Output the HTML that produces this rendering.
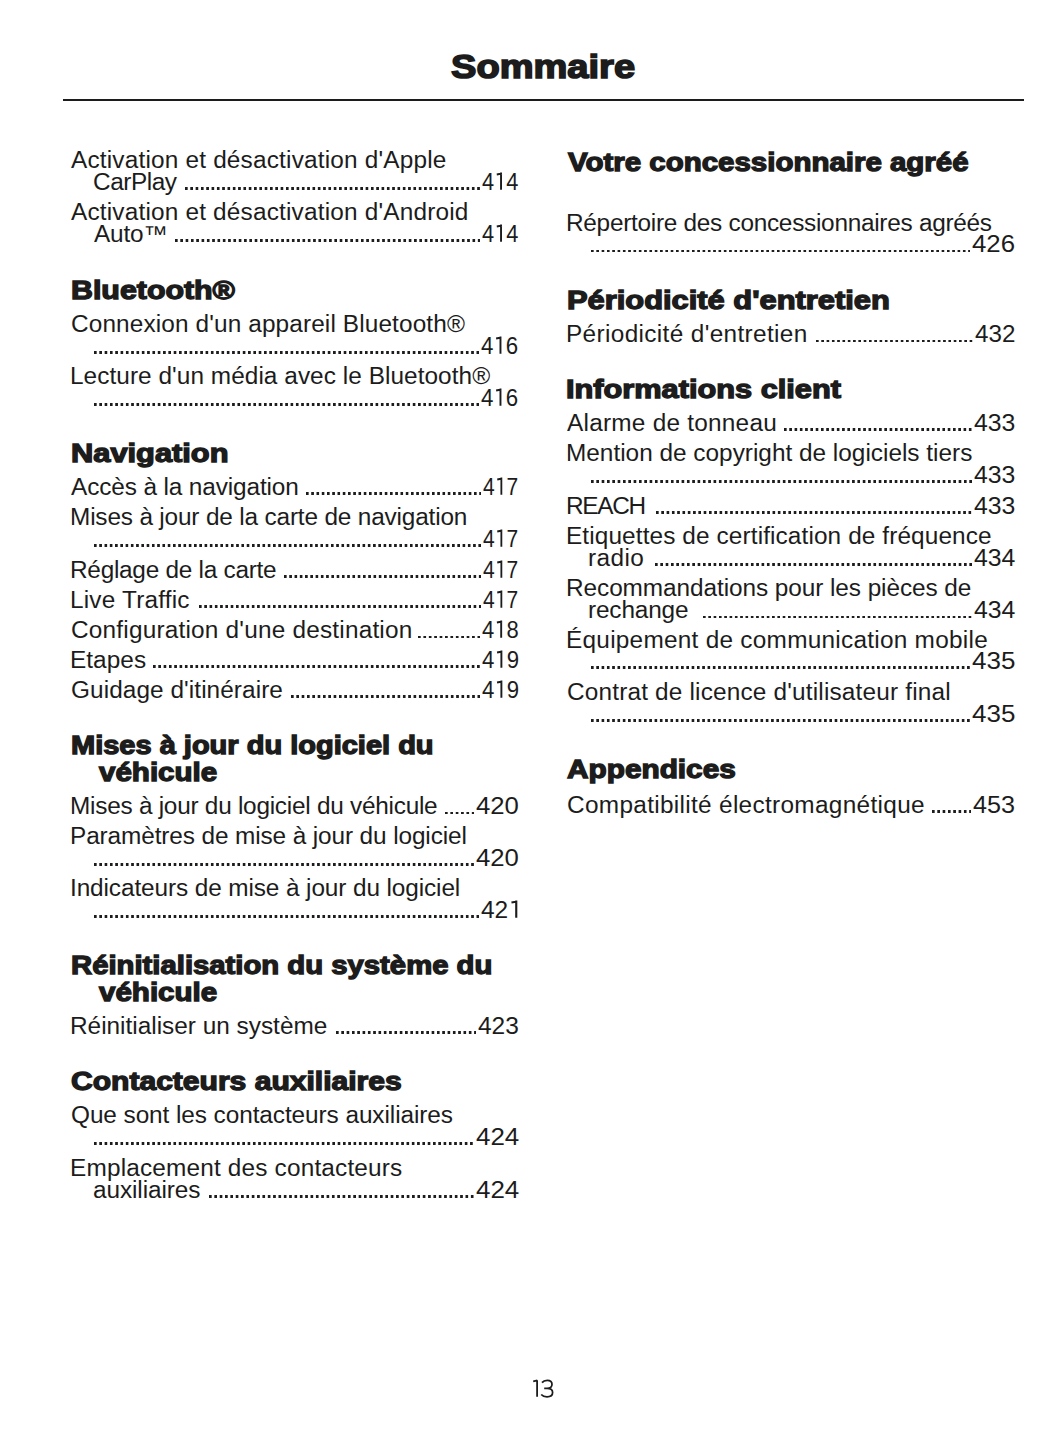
<!DOCTYPE html>
<html><head><meta charset="utf-8"><style>
html,body{margin:0;padding:0;background:#fff;}
body{width:1055px;height:1448px;position:relative;overflow:hidden;color:#1c1c1c;font-family:"Liberation Sans",sans-serif;}
.e,.h,.t{position:absolute;white-space:pre;transform-origin:0 0;}
.e{font-size:23.0px;line-height:23.0px;}
.h{font-size:25.5px;line-height:25.5px;font-weight:bold;-webkit-text-stroke:1.3px #1c1c1c;}
.t{font-size:33.5px;line-height:33.5px;font-weight:bold;-webkit-text-stroke:1.6px #1c1c1c;}
.dt{position:absolute;height:2.9px;background-image:linear-gradient(90deg,#1c1c1c 0,#1c1c1c 2.4px,transparent 2.4px);background-repeat:repeat-x;background-position:left 0 top 0;}
.o1{position:relative;color:transparent;}
.o1 svg{position:absolute;left:0;top:0;}
.rule{position:absolute;left:63px;top:99px;width:961px;height:1.6px;background:#1c1c1c;}
</style></head><body>
<div class="rule"></div>
<div class="e" style="left:71.00px;top:149.43px;letter-spacing:0.172px;transform:scaleX(1.0600)">Activation et désactivation d&#x27;Apple</div>
<div class="e" style="left:92.64px;top:170.83px;letter-spacing:-0.436px;transform:scaleX(1.0600)">CarPlay</div>
<div class="e" style="left:482.12px;top:170.83px;letter-spacing:0.000px;transform:scaleX(0.9467)">4<span class="o1">1<svg width="13" height="23" viewBox="0 0 13 23"><path d="M2.6 5.4 L8.1 4.4 M7.1 3.6 V20.8" stroke="#1c1c1c" stroke-width="2.0" fill="none" stroke-linecap="butt" stroke-linejoin="miter"/></svg></span>4</div>
<div class="dt" style="left:184.90px;top:187.10px;width:295.20px;background-size:5.324px 2.9px"></div>
<div class="e" style="left:71.00px;top:200.63px;letter-spacing:0.169px;transform:scaleX(1.0600)">Activation et désactivation d&#x27;Android</div>
<div class="e" style="left:94.00px;top:223.03px;letter-spacing:-0.176px;transform:scaleX(1.0600)">Auto™</div>
<div class="e" style="left:482.12px;top:223.03px;letter-spacing:0.000px;transform:scaleX(0.9467)">4<span class="o1">1<svg width="13" height="23" viewBox="0 0 13 23"><path d="M2.6 5.4 L8.1 4.4 M7.1 3.6 V20.8" stroke="#1c1c1c" stroke-width="2.0" fill="none" stroke-linecap="butt" stroke-linejoin="miter"/></svg></span>4</div>
<div class="dt" style="left:174.70px;top:239.30px;width:305.40px;background-size:5.316px 2.9px"></div>
<div class="h" style="left:70.84px;top:277.91px;letter-spacing:0.000px;transform:scaleX(1.1904)">Bluetooth®</div>
<div class="e" style="left:70.54px;top:313.43px;letter-spacing:0.112px;transform:scaleX(1.0600)">Connexion d&#x27;un appareil Bluetooth®</div>
<div class="e" style="left:481.38px;top:334.53px;letter-spacing:0.000px;transform:scaleX(0.9687)">4<span class="o1">1<svg width="13" height="23" viewBox="0 0 13 23"><path d="M2.6 5.4 L8.1 4.4 M7.1 3.6 V20.8" stroke="#1c1c1c" stroke-width="2.0" fill="none" stroke-linecap="butt" stroke-linejoin="miter"/></svg></span>6</div>
<div class="dt" style="left:94.10px;top:350.80px;width:385.30px;background-size:5.318px 2.9px"></div>
<div class="e" style="left:69.69px;top:364.83px;letter-spacing:0.045px;transform:scaleX(1.0600)">Lecture d&#x27;un média avec le Bluetooth®</div>
<div class="e" style="left:481.38px;top:386.53px;letter-spacing:0.000px;transform:scaleX(0.9687)">4<span class="o1">1<svg width="13" height="23" viewBox="0 0 13 23"><path d="M2.6 5.4 L8.1 4.4 M7.1 3.6 V20.8" stroke="#1c1c1c" stroke-width="2.0" fill="none" stroke-linecap="butt" stroke-linejoin="miter"/></svg></span>6</div>
<div class="dt" style="left:94.10px;top:402.80px;width:385.30px;background-size:5.318px 2.9px"></div>
<div class="h" style="left:71.03px;top:441.41px;letter-spacing:0.000px;transform:scaleX(1.2080)">Navigation</div>
<div class="e" style="left:71.00px;top:476.13px;letter-spacing:-0.121px;transform:scaleX(1.0600)">Accès à la navigation</div>
<div class="e" style="left:483.42px;top:476.13px;letter-spacing:0.000px;transform:scaleX(0.9135)">4<span class="o1">1<svg width="13" height="23" viewBox="0 0 13 23"><path d="M2.6 5.4 L8.1 4.4 M7.1 3.6 V20.8" stroke="#1c1c1c" stroke-width="2.0" fill="none" stroke-linecap="butt" stroke-linejoin="miter"/></svg></span>7</div>
<div class="dt" style="left:305.60px;top:492.40px;width:175.80px;background-size:5.255px 2.9px"></div>
<div class="e" style="left:70.09px;top:506.23px;letter-spacing:-0.166px;transform:scaleX(1.0600)">Mises à jour de la carte de navigation</div>
<div class="e" style="left:483.42px;top:527.53px;letter-spacing:0.000px;transform:scaleX(0.9135)">4<span class="o1">1<svg width="13" height="23" viewBox="0 0 13 23"><path d="M2.6 5.4 L8.1 4.4 M7.1 3.6 V20.8" stroke="#1c1c1c" stroke-width="2.0" fill="none" stroke-linecap="butt" stroke-linejoin="miter"/></svg></span>7</div>
<div class="dt" style="left:94.10px;top:543.80px;width:387.30px;background-size:5.273px 2.9px"></div>
<div class="e" style="left:70.09px;top:559.03px;letter-spacing:-0.253px;transform:scaleX(1.0600)">Réglage de la carte</div>
<div class="e" style="left:483.42px;top:559.03px;letter-spacing:0.000px;transform:scaleX(0.9135)">4<span class="o1">1<svg width="13" height="23" viewBox="0 0 13 23"><path d="M2.6 5.4 L8.1 4.4 M7.1 3.6 V20.8" stroke="#1c1c1c" stroke-width="2.0" fill="none" stroke-linecap="butt" stroke-linejoin="miter"/></svg></span>7</div>
<div class="dt" style="left:283.70px;top:575.30px;width:197.70px;background-size:5.278px 2.9px"></div>
<div class="e" style="left:70.09px;top:589.13px;letter-spacing:0.174px;transform:scaleX(1.0600)">Live Traffic</div>
<div class="e" style="left:483.42px;top:589.13px;letter-spacing:0.000px;transform:scaleX(0.9135)">4<span class="o1">1<svg width="13" height="23" viewBox="0 0 13 23"><path d="M2.6 5.4 L8.1 4.4 M7.1 3.6 V20.8" stroke="#1c1c1c" stroke-width="2.0" fill="none" stroke-linecap="butt" stroke-linejoin="miter"/></svg></span>7</div>
<div class="dt" style="left:198.80px;top:605.40px;width:282.60px;background-size:5.287px 2.9px"></div>
<div class="e" style="left:70.64px;top:619.33px;letter-spacing:0.186px;transform:scaleX(1.0600)">Configuration d&#x27;une destination</div>
<div class="e" style="left:482.42px;top:619.33px;letter-spacing:0.000px;transform:scaleX(0.9546)">4<span class="o1">1<svg width="13" height="23" viewBox="0 0 13 23"><path d="M2.6 5.4 L8.1 4.4 M7.1 3.6 V20.8" stroke="#1c1c1c" stroke-width="2.0" fill="none" stroke-linecap="butt" stroke-linejoin="miter"/></svg></span>8</div>
<div class="dt" style="left:418.40px;top:635.60px;width:62.00px;background-size:5.418px 2.9px"></div>
<div class="e" style="left:70.09px;top:648.73px;letter-spacing:0.037px;transform:scaleX(1.0600)">Etapes</div>
<div class="e" style="left:482.12px;top:648.73px;letter-spacing:0.000px;transform:scaleX(0.9647)">4<span class="o1">1<svg width="13" height="23" viewBox="0 0 13 23"><path d="M2.6 5.4 L8.1 4.4 M7.1 3.6 V20.8" stroke="#1c1c1c" stroke-width="2.0" fill="none" stroke-linecap="butt" stroke-linejoin="miter"/></svg></span>9</div>
<div class="dt" style="left:153.40px;top:665.00px;width:326.70px;background-size:5.316px 2.9px"></div>
<div class="e" style="left:70.64px;top:678.73px;letter-spacing:0.061px;transform:scaleX(1.0600)">Guidage d&#x27;itinéraire</div>
<div class="e" style="left:482.12px;top:678.73px;letter-spacing:0.000px;transform:scaleX(0.9647)">4<span class="o1">1<svg width="13" height="23" viewBox="0 0 13 23"><path d="M2.6 5.4 L8.1 4.4 M7.1 3.6 V20.8" stroke="#1c1c1c" stroke-width="2.0" fill="none" stroke-linecap="butt" stroke-linejoin="miter"/></svg></span>9</div>
<div class="dt" style="left:291.00px;top:695.00px;width:189.10px;background-size:5.334px 2.9px"></div>
<div class="h" style="left:71.04px;top:733.11px;letter-spacing:0.000px;transform:scaleX(1.1373)">Mises à jour du logiciel du</div>
<div class="h" style="left:98.68px;top:760.11px;letter-spacing:0.000px;transform:scaleX(1.1582)">véhicule</div>
<div class="e" style="left:70.09px;top:795.23px;letter-spacing:-0.244px;transform:scaleX(1.0600)">Mises à jour du logiciel du véhicule</div>
<div class="e" style="left:476.15px;top:795.23px;letter-spacing:0.000px;transform:scaleX(1.1178)">420</div>
<div class="dt" style="left:445.00px;top:811.50px;width:29.20px;background-size:5.360px 2.9px"></div>
<div class="e" style="left:70.09px;top:825.23px;letter-spacing:-0.111px;transform:scaleX(1.0600)">Paramètres de mise à jour du logiciel</div>
<div class="e" style="left:476.15px;top:846.53px;letter-spacing:0.000px;transform:scaleX(1.1178)">420</div>
<div class="dt" style="left:94.10px;top:862.80px;width:380.10px;background-size:5.320px 2.9px"></div>
<div class="e" style="left:69.94px;top:877.33px;letter-spacing:-0.104px;transform:scaleX(1.0600)">Indicateurs de mise à jour du logiciel</div>
<div class="e" style="left:481.35px;top:898.53px;letter-spacing:0.000px;transform:scaleX(1.0649)">42<span class="o1">1<svg width="13" height="23" viewBox="0 0 13 23"><path d="M2.6 5.4 L8.1 4.4 M7.1 3.6 V20.8" stroke="#1c1c1c" stroke-width="2.0" fill="none" stroke-linecap="butt" stroke-linejoin="miter"/></svg></span></div>
<div class="dt" style="left:94.10px;top:914.80px;width:385.30px;background-size:5.318px 2.9px"></div>
<div class="h" style="left:71.04px;top:952.81px;letter-spacing:0.000px;transform:scaleX(1.1481)">Réinitialisation du système du</div>
<div class="h" style="left:98.68px;top:980.21px;letter-spacing:0.000px;transform:scaleX(1.1582)">véhicule</div>
<div class="e" style="left:70.09px;top:1015.13px;letter-spacing:-0.006px;transform:scaleX(1.0600)">Réinitialiser un système</div>
<div class="e" style="left:478.36px;top:1015.13px;letter-spacing:0.000px;transform:scaleX(1.0640)">423</div>
<div class="dt" style="left:335.70px;top:1031.40px;width:140.70px;background-size:5.319px 2.9px"></div>
<div class="h" style="left:70.83px;top:1069.11px;letter-spacing:0.000px;transform:scaleX(1.1785)">Contacteurs auxiliaires</div>
<div class="e" style="left:70.56px;top:1103.83px;letter-spacing:-0.077px;transform:scaleX(1.0600)">Que sont les contacteurs auxiliaires</div>
<div class="e" style="left:475.53px;top:1126.13px;letter-spacing:0.000px;transform:scaleX(1.1270)">424</div>
<div class="dt" style="left:94.10px;top:1142.40px;width:379.50px;background-size:5.311px 2.9px"></div>
<div class="e" style="left:70.09px;top:1157.03px;letter-spacing:0.157px;transform:scaleX(1.0600)">Emplacement des contacteurs</div>
<div class="e" style="left:93.08px;top:1179.03px;letter-spacing:-0.093px;transform:scaleX(1.0600)">auxiliaires</div>
<div class="e" style="left:475.53px;top:1179.03px;letter-spacing:0.000px;transform:scaleX(1.1270)">424</div>
<div class="dt" style="left:209.00px;top:1195.30px;width:264.60px;background-size:5.351px 2.9px"></div>
<div class="h" style="left:567.74px;top:149.81px;letter-spacing:0.000px;transform:scaleX(1.1553)">Votre concessionnaire agréé</div>
<div class="e" style="left:566.09px;top:212.23px;letter-spacing:-0.264px;transform:scaleX(1.0600)">Répertoire des concessionnaires agréés</div>
<div class="e" style="left:972.23px;top:233.33px;letter-spacing:0.000px;transform:scaleX(1.1218)">426</div>
<div class="dt" style="left:590.50px;top:249.60px;width:379.80px;background-size:5.315px 2.9px"></div>
<div class="h" style="left:566.83px;top:287.91px;letter-spacing:0.000px;transform:scaleX(1.2099)">Périodicité d&#x27;entretien</div>
<div class="e" style="left:565.89px;top:323.23px;letter-spacing:0.326px;transform:scaleX(1.0600)">Périodicité d&#x27;entretien</div>
<div class="e" style="left:974.66px;top:323.23px;letter-spacing:0.000px;transform:scaleX(1.0520)">432</div>
<div class="dt" style="left:816.40px;top:339.50px;width:156.30px;background-size:5.307px 2.9px"></div>
<div class="h" style="left:566.43px;top:377.11px;letter-spacing:0.000px;transform:scaleX(1.2051)">Informations client</div>
<div class="e" style="left:566.50px;top:411.83px;letter-spacing:0.221px;transform:scaleX(1.0600)">Alarme de tonneau</div>
<div class="e" style="left:973.65px;top:411.83px;letter-spacing:0.000px;transform:scaleX(1.0785)">433</div>
<div class="dt" style="left:784.20px;top:428.10px;width:187.50px;background-size:5.289px 2.9px"></div>
<div class="e" style="left:566.09px;top:442.23px;letter-spacing:-0.005px;transform:scaleX(1.0600)">Mention de copyright de logiciels tiers</div>
<div class="e" style="left:973.65px;top:464.03px;letter-spacing:0.000px;transform:scaleX(1.0785)">433</div>
<div class="dt" style="left:590.50px;top:480.30px;width:381.20px;background-size:5.335px 2.9px"></div>
<div class="e" style="left:566.29px;top:494.73px;letter-spacing:-1.230px;transform:scaleX(1.0600)">REACH</div>
<div class="e" style="left:973.65px;top:494.73px;letter-spacing:0.000px;transform:scaleX(1.0785)">433</div>
<div class="dt" style="left:656.30px;top:511.00px;width:315.40px;background-size:5.305px 2.9px"></div>
<div class="e" style="left:566.29px;top:524.73px;letter-spacing:0.100px;transform:scaleX(1.0600)">Etiquettes de certification de fréquence</div>
<div class="e" style="left:587.61px;top:546.53px;letter-spacing:0.374px;transform:scaleX(1.0600)">radio</div>
<div class="e" style="left:973.66px;top:546.53px;letter-spacing:0.000px;transform:scaleX(1.0786)">434</div>
<div class="dt" style="left:654.80px;top:562.80px;width:316.90px;background-size:5.331px 2.9px"></div>
<div class="e" style="left:566.29px;top:577.43px;letter-spacing:-0.072px;transform:scaleX(1.0600)">Recommandations pour les pièces de</div>
<div class="e" style="left:588.31px;top:599.33px;letter-spacing:-0.148px;transform:scaleX(1.0600)">rechange</div>
<div class="e" style="left:973.66px;top:599.33px;letter-spacing:0.000px;transform:scaleX(1.0786)">434</div>
<div class="dt" style="left:703.40px;top:615.60px;width:268.30px;background-size:5.318px 2.9px"></div>
<div class="e" style="left:566.29px;top:629.03px;letter-spacing:0.239px;transform:scaleX(1.0600)">Équipement de communication mobile</div>
<div class="e" style="left:971.63px;top:650.03px;letter-spacing:0.000px;transform:scaleX(1.1298)">435</div>
<div class="dt" style="left:590.50px;top:666.30px;width:379.20px;background-size:5.307px 2.9px"></div>
<div class="e" style="left:566.54px;top:680.93px;letter-spacing:0.160px;transform:scaleX(1.0600)">Contrat de licence d&#x27;utilisateur final</div>
<div class="e" style="left:971.63px;top:702.53px;letter-spacing:0.000px;transform:scaleX(1.1298)">435</div>
<div class="dt" style="left:590.50px;top:718.80px;width:379.20px;background-size:5.307px 2.9px"></div>
<div class="h" style="left:567.23px;top:757.21px;letter-spacing:0.000px;transform:scaleX(1.1677)">Appendices</div>
<div class="e" style="left:566.54px;top:793.93px;letter-spacing:0.292px;transform:scaleX(1.0600)">Compatibilité électromagnétique</div>
<div class="e" style="left:973.45px;top:793.93px;letter-spacing:0.000px;transform:scaleX(1.0950)">453</div>
<div class="dt" style="left:931.90px;top:810.20px;width:39.60px;background-size:5.314px 2.9px"></div>
<div class="t" style="left:450.96px;top:49.94px;letter-spacing:0.000px;transform:scaleX(1.1366)">Sommaire</div>
<svg class="pn" width="40" height="30" viewBox="523 1372 40 30" style="position:absolute;left:523px;top:1372px"><path d="M533.2 1381.3 L537.3 1380.4 M537.1 1380.2 V1396.8" stroke="#1c1c1c" stroke-width="1.8" fill="none"/><path d="M542.0 1382.6 C543.2 1381.0 545.0 1380.3 547.2 1380.3 C550.2 1380.3 552.0 1382.1 552.0 1384.3 C552.0 1386.7 550.0 1388.4 547.0 1388.4 L544.2 1388.4 M547.0 1388.4 C550.4 1388.4 552.6 1390.2 552.6 1392.6 C552.6 1395.2 550.3 1396.9 547.0 1396.9 C544.6 1396.9 542.5 1396.0 541.2 1394.5" stroke="#1c1c1c" stroke-width="1.75" fill="none"/></svg>
</body></html>
